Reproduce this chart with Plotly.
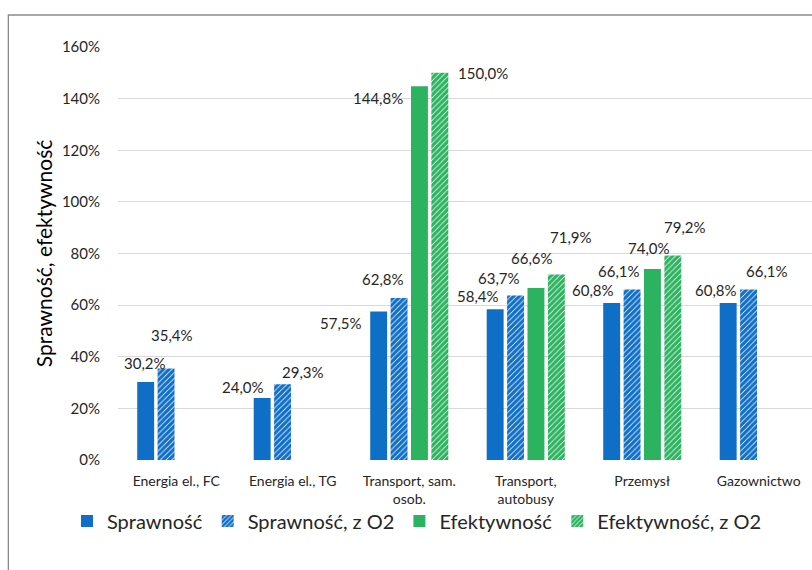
import plotly.graph_objects as go

categories = ["Energia el., FC", "Energia el., TG", "Transport, sam.<br>osob.",
              "Transport,<br>autobusy", "Przemysł", "Gazownictwo"]
series_names = ["Sprawność", "Sprawność, z O2", "Efektywność", "Efektywność, z O2"]
sprawnosc = [30.2, 24.0, 57.5, 58.4, 60.8, 60.8]
sprawnosc_o2 = [35.4, 29.3, 62.8, 63.7, 66.1, 66.1]
efektywnosc = [None, None, 144.8, 66.6, 74.0, None]
efektywnosc_o2 = [None, None, 150.0, 71.9, 79.2, None]
y_ticks = [0, 20, 40, 60, 80, 100, 120, 140, 160]
y_tick_labels = [f"{v}%" for v in y_ticks]

series_values = [sprawnosc, sprawnosc_o2, efektywnosc, efektywnosc_o2]

# label offsets (px) relative to bar top centre: (dx, dy up)
label_offsets = [
    [(-1, 19), (-19, 11), (-38, -11), (-17, 13), (-19, 13), (-12, 13)],
    [(6, 34), (20, 12), (-16, 19), (-17, 18), (-13, 18), (18, 18)],
    [None, None, (-41, -12), (-4, 30), (-3, 21), None],
    [None, None, (43, 0), (15, 37), (12, 29), None],
]

BLUE = "#0F6FC6"
GREEN = "#2BB35F"
FONT = "Lato"
TXT = "#262626"
BARGAP = 0.30

styles = [
    dict(color=BLUE, pattern=None),
    dict(color="white", pattern=dict(shape="/", fgcolor=BLUE, bgcolor="white", size=4,
                                     solidity=0.8, fgopacity=1)),
    dict(color=GREEN, pattern=None),
    dict(color="white", pattern=dict(shape="/", fgcolor=GREEN, bgcolor="white", size=4,
                                     solidity=0.8, fgopacity=1)),
]

x_idx = list(range(len(categories)))

fig = go.Figure()
for name, vals, st in zip(series_names, series_values, styles):
    marker = dict(color=st["color"], line=dict(width=0))
    if st["pattern"]:
        marker["pattern"] = st["pattern"]
    fig.add_trace(go.Bar(name=name, x=x_idx, y=vals, marker=marker))

slot = (1 - BARGAP) / len(series_names)
for s, vals in enumerate(series_values):
    for i, v in enumerate(vals):
        if v is None:
            continue
        dx, dy = label_offsets[s][i]
        fig.add_annotation(
            x=i + (s - 1.5) * slot, y=v, xref="x", yref="y",
            text=f"{v:.1f}".replace(".", ",") + "%",
            showarrow=False, xanchor="center", yanchor="middle",
            xshift=dx, yshift=dy,
            font=dict(family=FONT, size=15, color=TXT),
        )

fig.add_shape(type="rect", xref="paper", yref="paper",
              x0=-0.158, x1=1.05, y0=-0.5, y1=1.0775,
              line=dict(color="#8a8a8a", width=1.3), fillcolor="rgba(0,0,0,0)", layer="below")

fig.update_layout(
    width=812, height=570,
    margin=dict(l=118, r=0, t=47, b=110),
    paper_bgcolor="white", plot_bgcolor="white",
    barmode="group", bargap=BARGAP, bargroupgap=0.17,
    font=dict(family=FONT, color=TXT),
    showlegend=True,
    legend=dict(orientation="h", x=-0.0735, xanchor="left", y=-0.148, yanchor="middle",
                bgcolor="rgba(0,0,0,0)",
                font=dict(family=FONT, size=20, color=TXT), traceorder="normal"),
    xaxis=dict(
        tickmode="array", tickvals=x_idx, ticktext=categories,
        range=[-0.5, 5.457], showgrid=False, zeroline=False, showline=False,
        ticks="", ticklabelstandoff=11, tickfont=dict(family=FONT, size=14, color=TXT),
    ),
    yaxis=dict(
        range=[0, 160], tickmode="array", tickvals=y_ticks, ticktext=y_tick_labels,
        showgrid=True, gridcolor="#d9d9d9", gridwidth=1, zeroline=False,
        showline=False, ticks="", ticklabelstandoff=17,
        tickfont=dict(family=FONT, size=15, color=TXT),
        title=dict(text="Sprawność, efektywność", standoff=3,
                   font=dict(family=FONT, size=21, color="#000000")),
    ),
)

fig.write_html("out.html")
